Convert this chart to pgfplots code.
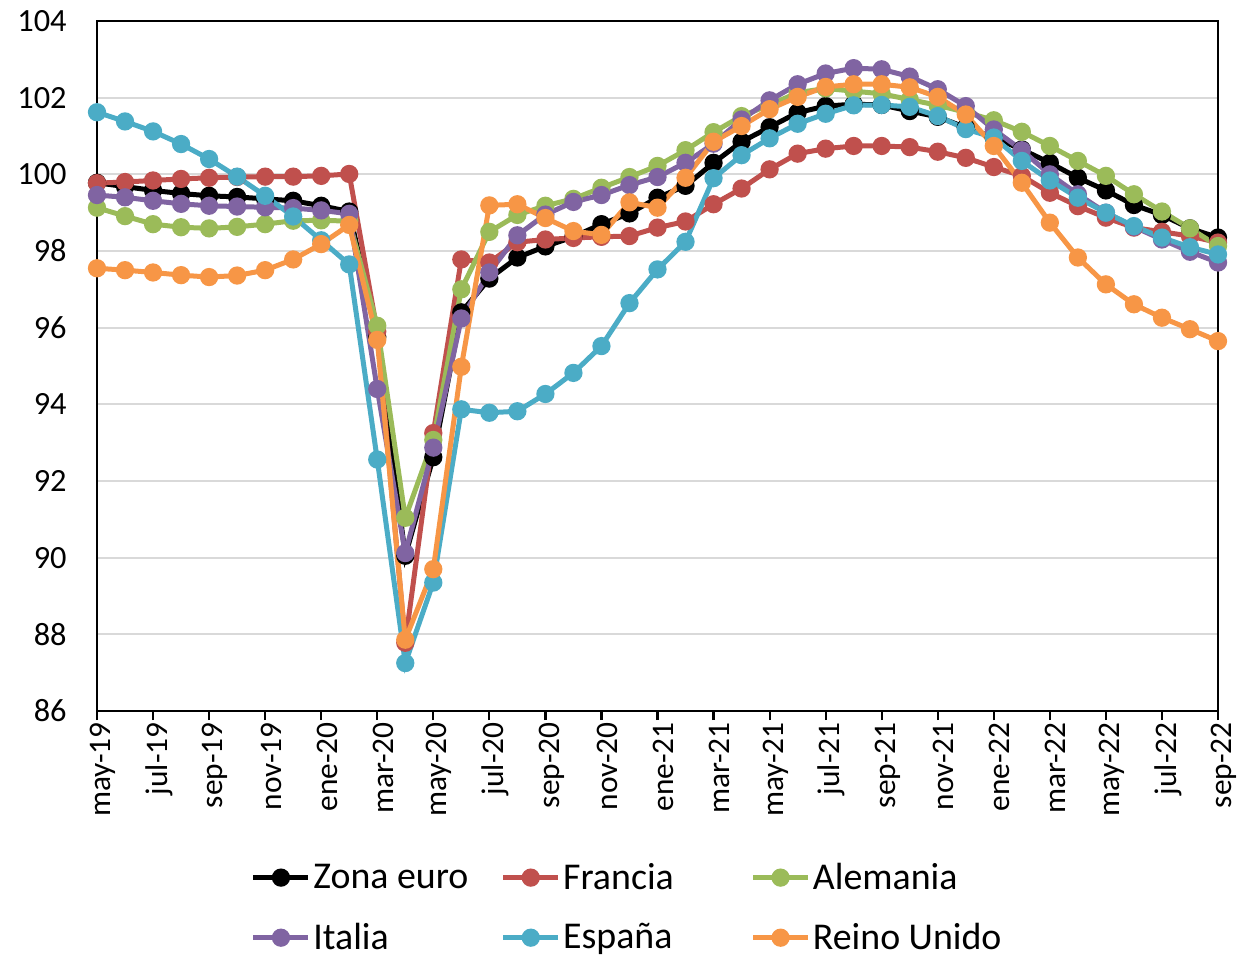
\documentclass[border=0pt]{standalone}
\usepackage{pgfplots}
\usepackage{pgfplotstable}
\pgfplotsset{compat=1.18}
\usepackage{fontspec}
\setmainfont{Carlito}
\definecolor{cFR}{HTML}{C0504D}
\definecolor{cDE}{HTML}{9BBB59}
\definecolor{cIT}{HTML}{8064A2}
\definecolor{cES}{HTML}{4BACC6}
\definecolor{cUK}{HTML}{F79646}
\definecolor{cGrid}{HTML}{D9D9D9}
\pgfplotstableread{
i ZE FR DE IT ES UK
0 99.78 99.77 99.13 99.46 101.62 97.55
1 99.68 99.80 98.91 99.40 101.38 97.50
2 99.58 99.84 98.70 99.31 101.12 97.44
3 99.50 99.88 98.62 99.23 100.79 97.37
4 99.44 99.91 98.59 99.18 100.40 97.32
5 99.41 99.93 98.63 99.16 99.94 97.36
6 99.36 99.94 98.70 99.14 99.44 97.50
7 99.31 99.94 98.79 99.12 98.90 97.78
8 99.18 99.96 98.80 99.06 98.28 98.18
9 99.03 100.01 98.78 98.97 97.65 98.68
10 95.76 95.90 96.05 94.40 92.56 95.68
11 90.05 87.78 91.04 90.12 87.25 87.86
12 92.62 93.25 93.07 92.87 89.35 89.70
13 96.40 97.78 97.00 96.24 93.87 94.98
14 97.28 97.70 98.50 97.44 93.78 99.19
15 97.83 98.23 98.94 98.41 93.82 99.22
16 98.12 98.30 99.18 98.95 94.27 98.86
17 98.37 98.34 99.36 99.28 94.82 98.52
18 98.70 98.37 99.65 99.46 95.52 98.42
19 98.98 98.39 99.93 99.72 96.64 99.27
20 99.39 98.61 100.22 99.93 97.52 99.13
21 99.70 98.77 100.63 100.30 98.24 99.91
22 100.30 99.22 101.10 100.80 99.90 100.85
23 100.85 99.63 101.52 101.43 100.50 101.26
24 101.23 100.13 101.81 101.93 100.94 101.70
25 101.61 100.54 102.13 102.35 101.32 102.02
26 101.78 100.67 102.24 102.63 101.58 102.28
27 101.83 100.74 102.17 102.77 101.80 102.35
28 101.81 100.74 102.10 102.74 101.81 102.35
29 101.65 100.71 101.95 102.55 101.76 102.27
30 101.50 100.59 101.80 102.22 101.52 102.02
31 101.22 100.43 101.62 101.78 101.18 101.56
32 100.96 100.19 101.41 101.17 100.96 100.74
33 100.65 99.96 101.11 100.63 100.35 99.78
34 100.30 99.52 100.74 100.00 99.84 98.74
35 99.91 99.17 100.35 99.48 99.39 97.83
36 99.58 98.87 99.96 99.00 99.00 97.13
37 99.20 98.61 99.48 98.63 98.65 96.61
38 98.94 98.50 99.03 98.30 98.35 96.26
39 98.59 98.39 98.59 97.98 98.10 95.96
40 98.35 98.22 98.13 97.70 97.91 95.65
}\datatable
\begin{document}
\begin{tikzpicture}
\useasboundingbox (-48.5bp,-128bp) rectangle (572bp,355.5bp);
\begin{axis}[
  at={(0,0)}, anchor=south west,
  scale only axis,
  width=560.5bp, height=345bp,
  xmin=0, xmax=40, ymin=86, ymax=104,
  axis line style={black, line width=1.1bp},
  xtick={0,2,...,40},
  xtick pos=bottom,
  xticklabels={may-19,jul-19,sep-19,nov-19,ene-20,mar-20,may-20,jul-20,sep-20,nov-20,ene-21,mar-21,may-21,jul-21,sep-21,nov-21,ene-22,mar-22,may-22,jul-22,sep-22},
  ytick={86,88,...,104},
  ymajorgrids,
  major grid style={cGrid, line width=1bp},
  x tick style={black, line width=1.1bp},
  tick align=outside,
  major tick length=4.5bp,
  ytick style={draw=none},
  xticklabel style={rotate=90, anchor=east, font=\fontsize{15.75}{18}\selectfont, inner sep=1bp, yshift=-3bp},
  yticklabel style={font=\fontsize{16.25}{18}\selectfont, inner sep=0pt, xshift=-10.5bp},
  /pgf/number format/assume math mode=true,
  every axis plot/.append style={line width=2.5bp, mark=*, mark size=3.3bp},
  legend columns=3,
  legend style={draw=none, fill=none, at={(0.137,-0.285)}, anchor=west,
    font=\fontsize{19}{22}\selectfont, inner sep=0pt,
    nodes={inner sep=1.2bp}, row sep=13bp},
  legend cell align=left,
  legend image code/.code={\draw[mark repeat=2, mark phase=2] plot coordinates {(0bp,0bp) (13.75bp,0bp) (27.5bp,0bp)};},
  clip=false,
]
\addplot[black, mark options={fill=black}] table[x=i, y=ZE] {\datatable};
\addlegendentry{\makebox[92.5bp][l]{Zona euro}}
\addplot[cFR, mark options={fill=cFR}] table[x=i, y=FR] {\datatable};
\addlegendentry{\makebox[92.5bp][l]{Francia}}
\addplot[cDE, mark options={fill=cDE}] table[x=i, y=DE] {\datatable};
\addlegendentry{\makebox[92.5bp][l]{Alemania}}
\addplot[cIT, mark options={fill=cIT}] table[x=i, y=IT] {\datatable};
\addlegendentry{\makebox[92.5bp][l]{Italia}}
\addplot[cES, mark options={fill=cES}] table[x=i, y=ES] {\datatable};
\addlegendentry{\makebox[92.5bp][l]{España}}
\addplot[cUK, mark options={fill=cUK}] table[x=i, y=UK] {\datatable};
\addlegendentry{\makebox[92.5bp][l]{Reino Unido}}
\end{axis}
\end{tikzpicture}
\end{document}
